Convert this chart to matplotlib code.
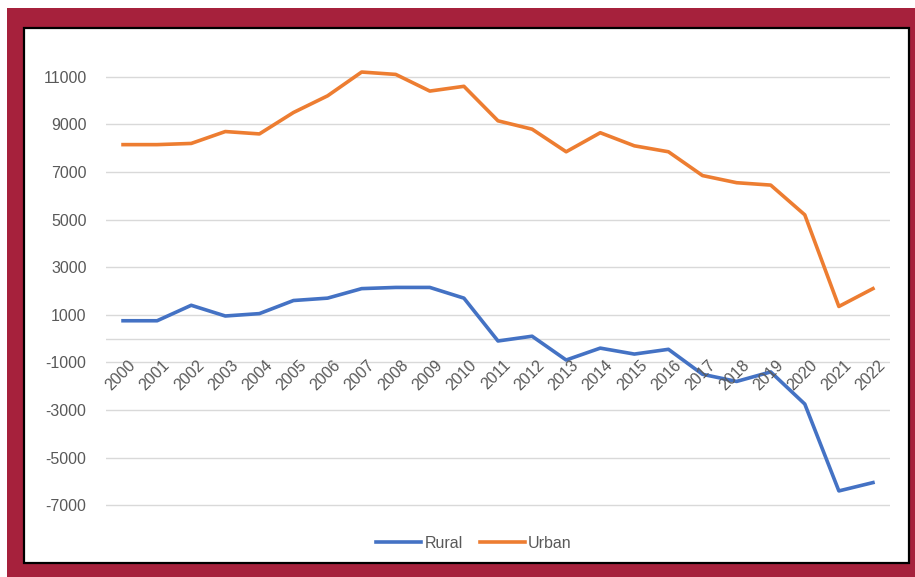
import matplotlib
matplotlib.use('Agg')
import matplotlib.pyplot as plt
import matplotlib.transforms as mtransforms
from matplotlib.patches import Rectangle
from matplotlib.lines import Line2D

years = [str(y) for y in range(2000, 2023)]
rural = [750, 750, 1400, 950, 1050, 1600, 1700, 2100, 2150, 2150, 1700,
         -100, 100, -900, -400, -650, -450, -1500, -1800, -1400, -2750, -6400, -6050]
urban = [8150, 8150, 8200, 8700, 8600, 9500, 10200, 11200, 11100, 10400, 10600,
         9150, 8800, 7850, 8650, 8100, 7850, 6850, 6550, 6450, 5200, 1350, 2100]
yticks = list(range(-7000, 12000, 2000))

W, H = 915, 577
fig = plt.figure(figsize=(W / 100, H / 100), dpi=100)
plt.rcParams['font.family'] = ['Liberation Sans', 'DejaVu Sans']

# red frame + white chart box (behind the axes)
fig.patches.append(Rectangle((7 / W, 0), 1 - 7 / W, 1 - 8 / H, transform=fig.transFigure,
                             facecolor='#A6213C', edgecolor='none', zorder=-2))
fig.patches.append(Rectangle((24 / W, 1 - 563 / H), (909 - 24) / W, (563 - 28) / H,
                             transform=fig.transFigure, facecolor='white',
                             edgecolor='black', linewidth=1.6, zorder=-1))

ax = fig.add_axes([106 / W, 1 - 529 / H, (890 - 106) / W, (529 - 53) / H])
ax.set_zorder(2)
ax.set_facecolor('none')
x = list(range(len(years)))
ax.plot(x, rural, color='#4472C4', lw=2.6, solid_joinstyle='round', zorder=3)
ax.plot(x, urban, color='#ED7D31', lw=2.6, solid_joinstyle='round', zorder=3)

ax.set_xlim(-0.5, len(years) - 0.5)
ax.set_ylim(-8000, 12000)
ax.set_yticks(yticks)
ax.set_yticklabels([str(v) for v in yticks])
ax.set_xticks([])
ax.grid(axis='y', color='#D9D9D9', lw=1)
ax.axhline(0, color='#D9D9D9', lw=1, zorder=1)
for s in ax.spines.values():
    s.set_visible(False)
ax.tick_params(axis='y', length=0, pad=14, labelsize=11.5, labelcolor='#595959')

# year labels hanging off the zero line
off = mtransforms.offset_copy(ax.transData, fig=fig, x=5, y=-19, units='dots')
for i, yr in enumerate(years):
    ax.text(i, 0, yr, transform=off, rotation=45, ha='right', va='top',
            rotation_mode='anchor', fontsize=11.5, color='#595959')

handles = [Line2D([], [], color='#4472C4', lw=2.6), Line2D([], [], color='#ED7D31', lw=2.6)]
fig.legend(handles, ['Rural', 'Urban'], loc='center', ncol=2, frameon=False,
           bbox_to_anchor=(474 / W, 1 - 543 / H), fontsize=11.5, labelcolor='#595959',
           handlelength=2.8, handletextpad=0.2, columnspacing=1.1)

fig.savefig('out.png', dpi=100)
